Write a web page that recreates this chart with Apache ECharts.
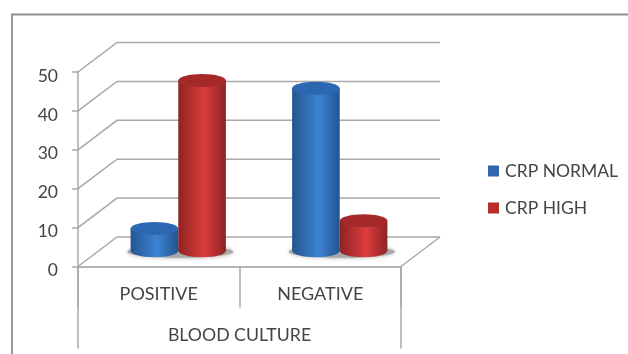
<!DOCTYPE html>
<html>
<head>
<meta charset="utf-8">
<style>html,body{margin:0;padding:0;background:#fff}#chart{width:628px;height:354px}</style>
<script src="https://cdn.jsdelivr.net/npm/echarts@6/dist/echarts.min.js"></script>
</head>
<body>
<div id="chart"></div>
<script>
// Blood culture result against CRP level
const categories = ['POSITIVE', 'NEGATIVE'];
const crpNormal = [6, 42];
const crpHigh = [44, 8];
const yTicks = [0, 10, 20, 30, 40, 50];

// Depth of the pseudo-3D box, in pixels
const DEPTH_X = 39;
const DEPTH_Y = 29.5;
const LINE = '#a8a8a8';
const TEXT = '#444444';

function hGradient(edge, mid, edge2) {
  return new echarts.graphic.LinearGradient(0, 0, 1, 0, [
    { offset: 0, color: edge },
    { offset: 0.55, color: mid },
    { offset: 1, color: edge2 }
  ]);
}

// A cylinder standing on the box floor, half-way into its depth
function cylinder(side, edge, mid, edge2, topColor) {
  return function (params, api) {
    const base = api.coord([api.value(0), 0]);
    const top = api.coord([api.value(0), api.value(1)]);
    const band = api.size([1, 0])[0];
    const w = band * 0.295;
    const rx = w / 2;
    const ry = 6.5;
    const cx = base[0] + DEPTH_X / 2 + side * rx;
    const y0 = base[1] - DEPTH_Y / 2 - 1;
    const y1 = top[1] - DEPTH_Y / 2;
    const fill = hGradient(edge, mid, edge2);
    return {
      type: 'group',
      children: [
        { type: 'ellipse', shape: { cx, cy: y0, rx, ry }, style: { fill } },
        { type: 'rect', shape: { x: cx - rx, y: y1, width: w, height: y0 - y1 }, style: { fill } },
        { type: 'ellipse', shape: { cx, cy: y1, rx, ry }, style: { fill: topColor } }
      ]
    };
  };
}

const option = {
  animation: false,
  backgroundColor: '#fff',
  textStyle: { fontFamily: 'Lato' },
  graphic: [{
    type: 'polyline',
    silent: true,
    z: -1,
    shape: { points: [[12, 354], [12, 14.5], [628, 14.5]] },
    style: { stroke: '#8f8f8f', lineWidth: 1.8, fill: null }
  }],
  legend: {
    left: 483,
    top: 157,
    orient: 'vertical',
    itemWidth: 11,
    itemHeight: 11,
    itemGap: 19,
    icon: 'rect',
    data: ['CRP NORMAL', 'CRP HIGH'],
    textStyle: { fontFamily: 'Lato', fontSize: 17.5, color: TEXT, padding: [0, 0, 0, 1] }
  },
  grid: { left: 78, top: 72, width: 323, height: 194.5 },
  xAxis: {
    type: 'category',
    data: categories,
    axisLine: { lineStyle: { color: '#b4b4b4', width: 2 } },
    axisTick: { show: true, length: 41, lineStyle: { color: LINE, width: 1.5 } },
    axisLabel: { margin: 19, fontSize: 18, color: TEXT },
    name: 'BLOOD CULTURE',
    nameLocation: 'middle',
    nameGap: 60,
    nameTextStyle: { fontSize: 17.7, color: TEXT }
  },
  yAxis: {
    type: 'value',
    min: 0,
    max: 50,
    interval: 10,
    splitLine: { show: false },
    axisLine: { show: true, lineStyle: { color: LINE, width: 1.5 } },
    axisTick: { show: true, length: 6, lineStyle: { color: LINE, width: 1.5 } },
    axisLabel: { margin: 20, fontSize: 17.5, color: TEXT, verticalAlign: 'top', lineHeight: 8 }
  },
  series: [
    {
      // Side wall, back wall and floor lines of the box
      type: 'custom',
      name: 'walls',
      silent: true,
      z: 1,
      data: yTicks.map(v => [0, v]),
      renderItem(params, api) {
        const y = api.coord([0, api.value(1)])[1];
        const c = params.coordSys;
        const children = [{
          type: 'polyline',
          shape: { points: [[c.x, y], [c.x + DEPTH_X, y - DEPTH_Y], [c.x + c.width + DEPTH_X, y - DEPTH_Y]] },
          style: { stroke: LINE, lineWidth: 1.5, fill: null }
        }];
        if (api.value(1) === 0) {
          children.push(
            { type: 'line', shape: { x1: c.x + c.width, y1: y, x2: c.x + c.width + DEPTH_X, y2: y - DEPTH_Y },
              style: { stroke: LINE, lineWidth: 1.5 } },
            { type: 'line', shape: { x1: c.x, y1: y, x2: c.x, y2: y + 82 },
              style: { stroke: LINE, lineWidth: 1.5 } },
            { type: 'line', shape: { x1: c.x + c.width, y1: y, x2: c.x + c.width, y2: y + 82 },
              style: { stroke: LINE, lineWidth: 1.5 } }
          );
        }
        return { type: 'group', children };
      }
    },
    {
      // Soft contact shadow beneath each pair of cylinders
      type: 'custom',
      name: 'floor shadow',
      silent: true,
      z: 2,
      data: categories.map((c, i) => [i, 0]),
      renderItem(params, api) {
        const p = api.coord([api.value(0), 0]);
        return {
          type: 'ellipse',
          shape: { cx: p[0] + DEPTH_X / 2 + 2, cy: p[1] - DEPTH_Y / 2, rx: 53, ry: 6 },
          style: { fill: '#a8a8a8', shadowBlur: 4, shadowColor: '#a8a8a8' }
        };
      }
    },
    {
      type: 'custom',
      name: 'CRP NORMAL',
      z: 3,
      itemStyle: { color: '#2f66ae' },
      data: crpNormal.map((v, i) => [i, v]),
      renderItem: cylinder(-1, '#23548f', '#3d83d4', '#23548f', '#2c68b2')
    },
    {
      type: 'custom',
      name: 'CRP HIGH',
      z: 4,
      itemStyle: { color: '#b52d2d' },
      data: crpHigh.map((v, i) => [i, v]),
      renderItem: cylinder(1, '#8e2323', '#dc3c3c', '#8e2323', '#a52929')
    }
  ]
};

echarts.init(document.getElementById('chart'), null, { renderer: 'canvas' }).setOption(option);
</script>
</body>
</html>
